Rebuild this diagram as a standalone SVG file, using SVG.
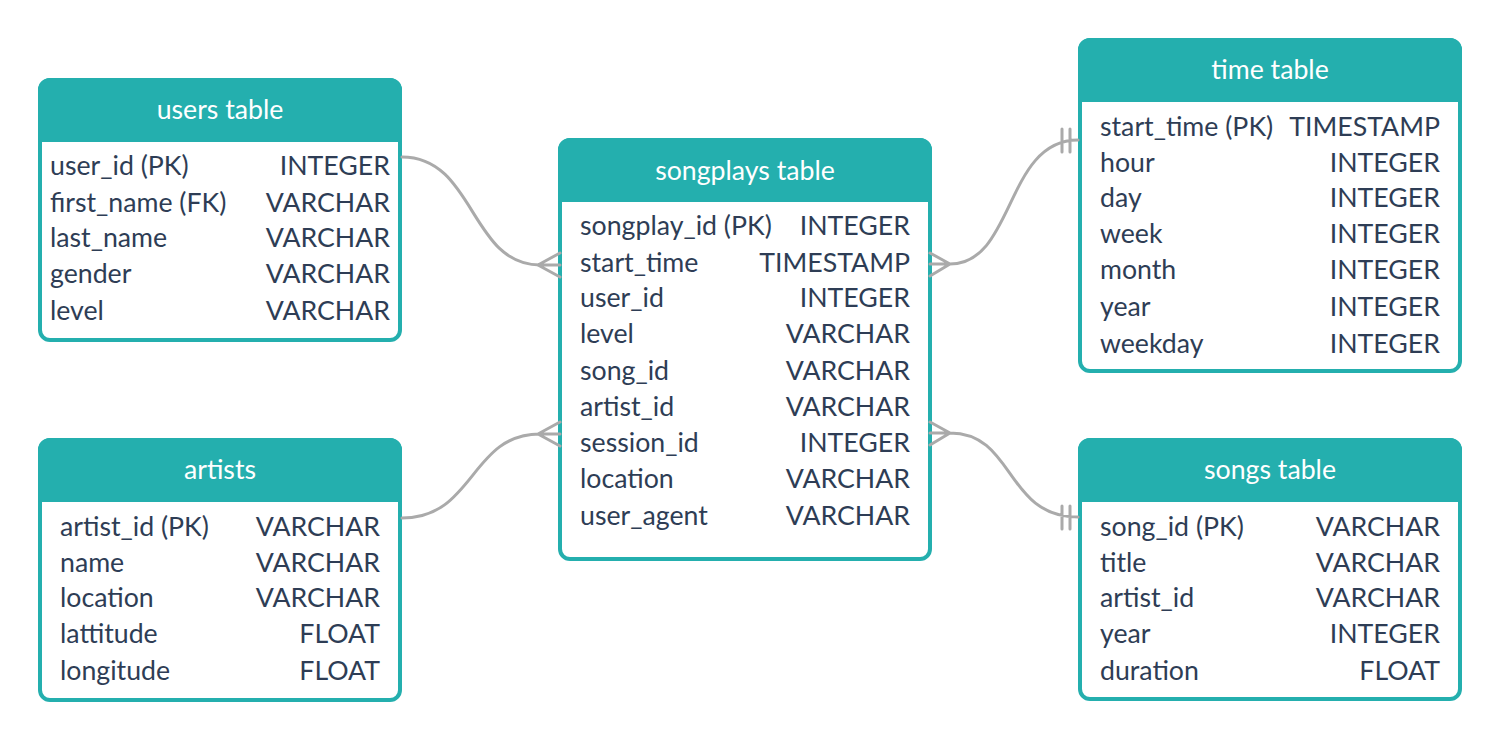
<svg xmlns="http://www.w3.org/2000/svg" width="1500" height="740" viewBox="0 0 1500 740">
<style>
.box{fill:#ffffff;stroke:#24AFAE;stroke-width:4}
.hdr{fill:#24AFAE;stroke:#24AFAE;stroke-width:4;stroke-linejoin:round}
.title{font-family:Lato,"Open Sans","Liberation Sans",sans-serif;font-size:26.7px;fill:#ffffff;text-anchor:middle}
.f{font-family:Lato,"Open Sans","Liberation Sans",sans-serif;font-size:26.7px;fill:#2E3D55}
.t{font-family:Lato,"Open Sans","Liberation Sans",sans-serif;font-size:26.7px;fill:#2E3D55;text-anchor:end}
.c{fill:none;stroke:#AAAAAA;stroke-width:3;stroke-linecap:round}
</style>
<rect width="1500" height="740" fill="#ffffff"/>

<g id="users">
<rect class="box" x="40" y="80" width="360" height="260" rx="10"/>
<path class="hdr" d="M40,90 a10,10 0 0 1 10,-10 h340 a10,10 0 0 1 10,10 v50 h-360 z"/>
<text class="title" x="220" y="119">users table</text>
<text class="f" x="50" y="175">user_id (PK)</text><text class="t" x="390" y="175">INTEGER</text>
<text class="f" x="50" y="212">first_name (FK)</text><text class="t" x="390" y="212">VARCHAR</text>
<text class="f" x="50" y="247">last_name</text><text class="t" x="390" y="247">VARCHAR</text>
<text class="f" x="50" y="283">gender</text><text class="t" x="390" y="283">VARCHAR</text>
<text class="f" x="50" y="320">level</text><text class="t" x="390" y="320">VARCHAR</text>
</g>

<g id="artists">
<rect class="box" x="40" y="440" width="360" height="260" rx="10"/>
<path class="hdr" d="M40,450 a10,10 0 0 1 10,-10 h340 a10,10 0 0 1 10,10 v50 h-360 z"/>
<text class="title" x="220" y="479">artists</text>
<text class="f" x="60" y="536">artist_id (PK)</text><text class="t" x="380" y="536">VARCHAR</text>
<text class="f" x="60" y="572">name</text><text class="t" x="380" y="572">VARCHAR</text>
<text class="f" x="60" y="607">location</text><text class="t" x="380" y="607">VARCHAR</text>
<text class="f" x="60" y="643">lattitude</text><text class="t" x="380" y="643">FLOAT</text>
<text class="f" x="60" y="680">longitude</text><text class="t" x="380" y="680">FLOAT</text>
</g>

<g id="songplays">
<rect class="box" x="560" y="140" width="370" height="419" rx="10"/>
<path class="hdr" d="M560,150 a10,10 0 0 1 10,-10 h350 a10,10 0 0 1 10,10 v50 h-370 z"/>
<text class="title" x="745" y="180">songplays table</text>
<text class="f" x="580" y="235">songplay_id (PK)</text><text class="t" x="910" y="235">INTEGER</text>
<text class="f" x="580" y="272">start_time</text><text class="t" x="910" y="272">TIMESTAMP</text>
<text class="f" x="580" y="307">user_id</text><text class="t" x="910" y="307">INTEGER</text>
<text class="f" x="580" y="343">level</text><text class="t" x="910" y="343">VARCHAR</text>
<text class="f" x="580" y="380">song_id</text><text class="t" x="910" y="380">VARCHAR</text>
<text class="f" x="580" y="416">artist_id</text><text class="t" x="910" y="416">VARCHAR</text>
<text class="f" x="580" y="452">session_id</text><text class="t" x="910" y="452">INTEGER</text>
<text class="f" x="580" y="488">location</text><text class="t" x="910" y="488">VARCHAR</text>
<text class="f" x="580" y="525">user_agent</text><text class="t" x="910" y="525">VARCHAR</text>
</g>

<g id="time">
<rect class="box" x="1080" y="40" width="380" height="331" rx="10"/>
<path class="hdr" d="M1080,50 a10,10 0 0 1 10,-10 h360 a10,10 0 0 1 10,10 v50 h-380 z"/>
<text class="title" x="1270" y="79">time table</text>
<text class="f" x="1100" y="136">start_time (PK)</text><text class="t" x="1440" y="136">TIMESTAMP</text>
<text class="f" x="1100" y="172">hour</text><text class="t" x="1440" y="172">INTEGER</text>
<text class="f" x="1100" y="207">day</text><text class="t" x="1440" y="207">INTEGER</text>
<text class="f" x="1100" y="243">week</text><text class="t" x="1440" y="243">INTEGER</text>
<text class="f" x="1100" y="279">month</text><text class="t" x="1440" y="279">INTEGER</text>
<text class="f" x="1100" y="316">year</text><text class="t" x="1440" y="316">INTEGER</text>
<text class="f" x="1100" y="353">weekday</text><text class="t" x="1440" y="353">INTEGER</text>
</g>

<g id="songs">
<rect class="box" x="1080" y="440" width="380" height="259" rx="10"/>
<path class="hdr" d="M1080,450 a10,10 0 0 1 10,-10 h360 a10,10 0 0 1 10,10 v50 h-380 z"/>
<text class="title" x="1270" y="479">songs table</text>
<text class="f" x="1100" y="536">song_id (PK)</text><text class="t" x="1440" y="536">VARCHAR</text>
<text class="f" x="1100" y="572">title</text><text class="t" x="1440" y="572">VARCHAR</text>
<text class="f" x="1100" y="607">artist_id</text><text class="t" x="1440" y="607">VARCHAR</text>
<text class="f" x="1100" y="643">year</text><text class="t" x="1440" y="643">INTEGER</text>
<text class="f" x="1100" y="680">duration</text><text class="t" x="1440" y="680">FLOAT</text>
</g>

<g id="connectors">
<path class="c" d="M402,157 C475,157 470,265 540,265 L560,265 M538,265 L560,253 M538,265 L560,277"/>
<path class="c" d="M402,518 C475,518 470,434 540,434 L560,434 M538,434 L560,422 M538,434 L560,446"/>
<path class="c" d="M930,264 L950,264 C1015,264 1005,140 1078,140 M950,264 L930,253 M950,264 L930,276 M1062,129 L1062,152 M1070,129 L1070,152"/>
<path class="c" d="M930,433 L950,433 C1015,433 1005,517 1078,517 M950,433 L930,422 M950,433 L930,445 M1062,506 L1062,529 M1070,506 L1070,529"/>
</g>
</svg>
